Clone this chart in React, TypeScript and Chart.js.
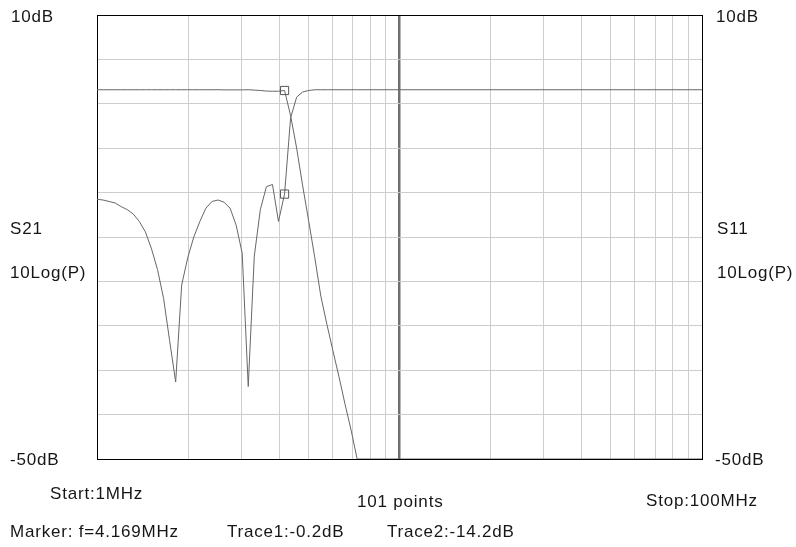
import React, { useEffect, useRef } from 'react';
import { Chart, registerables } from 'chart.js';

Chart.register(...registerables);

// Sweep frequencies (MHz) (101-point sweep, points 0..43 then stop)
const FREQ_MHZ = [
  1.0, 1.047, 1.096, 1.148, 1.202, 1.259, 1.318, 1.38, 1.445, 1.514,
  1.585, 1.66, 1.738, 1.82, 1.905, 1.995, 2.089, 2.188, 2.291, 2.399,
  2.512, 2.63, 2.754, 2.884, 3.02, 3.162, 3.311, 3.467, 3.631, 3.802,
  3.981, 4.169, 4.365, 4.571, 4.786, 5.012, 5.248, 5.495, 5.754, 6.026,
  6.31, 6.607, 6.918, 7.244, 100,
];

// Trace1: S21 (dB)
const S21_DB = [
  -0.1, -0.1, -0.1, -0.1, -0.1, -0.1, -0.1, -0.1, -0.1, -0.1,
  -0.1, -0.1, -0.1, -0.1, -0.1, -0.1, -0.1, -0.1, -0.1, -0.1,
  -0.1, -0.12, -0.12, -0.12, -0.12, -0.1, -0.15, -0.2, -0.28, -0.3,
  -0.3, -0.2, -3.6, -8.0, -13.1, -17.9, -22.8, -28.0, -31.8, -35.4,
  -38.9, -42.6, -46.1, -50, -50,
];

// Trace2: S11 (dB)
const S11_DB = [
  -14.9, -15.0, -15.2, -15.4, -15.9, -16.3, -16.9, -17.9, -19.3, -21.6,
  -24.4, -28.3, -34.0, -39.6, -26.5, -22.8, -20.0, -17.9, -16.1, -15.2,
  -15.0, -15.3, -16.1, -18.4, -22.2, -40.2, -22.6, -16.3, -13.2, -12.9,
  -17.9, -14.2, -3.9, -1.1, -0.4, -0.2, -0.1, -0.1, -0.1, -0.1,
  -0.1, -0.1, -0.1, -0.1, -0.1,
];

const X_TICKS = [1, 2, 3, 4, 5, 6, 7, 8, 9, 10, 20, 30, 40, 50, 60, 70, 80, 90, 100];
const Y_TICKS = [-50, -44, -38, -32, -26, -20, -14, -8, -2, 4, 10];
const MARKER_INDEX = 31;
const POINTS_COUNT = 101;

const TRACE_COLOR = '#676767';
const GRID_COLOR = '#cdcdcd';

const framePlugin = {
  id: 'frame',
  beforeDraw(chart: any) {
    const ctx = chart.ctx;
    ctx.save();
    ctx.fillStyle = '#ffffff';
    ctx.fillRect(0, 0, chart.width, chart.height);
    ctx.restore();
  },
  beforeDatasetsDraw(chart: any) {
    const { ctx, chartArea } = chart;
    ctx.save();
    ctx.strokeStyle = '#000000';
    ctx.lineWidth = 1;
    const l = Math.round(chartArea.left) + 0.5;
    const t = Math.round(chartArea.top) + 0.5;
    const r = Math.round(chartArea.right) + 0.5;
    const b = Math.round(chartArea.bottom) + 0.5;
    ctx.strokeRect(l, t, r - l, b - t);
    ctx.restore();
  },
  afterDraw(chart: any) {
    const ctx = chart.ctx;
    ctx.save();
    ctx.fillStyle = '#161616';
    ctx.font = '17px "Liberation Sans", Arial, sans-serif';
    try { (ctx as any).letterSpacing = '0.8px'; } catch (e) { /* ignore */ }
    ctx.textBaseline = 'alphabetic';
    ctx.textAlign = 'left';
    const f = FREQ_MHZ[MARKER_INDEX];
    const labels: [string, number, number][] = [
      ['10dB', 11, 22],
      ['S21', 10, 234],
      ['10Log(P)', 10, 278],
      ['-50dB', 10, 465],
      ['10dB', 716, 22],
      ['S11', 717, 234],
      ['10Log(P)', 717, 278],
      ['-50dB', 715, 465],
      ['Start:' + FREQ_MHZ[0] + 'MHz', 50, 499],
      [POINTS_COUNT + ' points', 357, 507],
      ['Stop:' + FREQ_MHZ[FREQ_MHZ.length - 1] + 'MHz', 646, 506],
      ['Marker: f=' + f.toFixed(3) + 'MHz', 10, 537],
      ['Trace1:' + S21_DB[MARKER_INDEX].toFixed(1) + 'dB', 227, 537],
      ['Trace2:' + S11_DB[MARKER_INDEX].toFixed(1) + 'dB', 387, 537],
    ];
    for (const [text, x, y] of labels) ctx.fillText(text, x, y);
    ctx.restore();
  },
};

export default function App() {
  const ref = useRef<HTMLCanvasElement>(null);
  useEffect(() => {
    document.body.style.margin = '0';
    const canvas = ref.current;
    if (!canvas) return;
    const markerRadius = (c: any) => (c.dataIndex === MARKER_INDEX ? 5.8 : 0);
    const chart = new Chart(canvas, {
      type: 'line',
      data: {
        datasets: [
          {
            label: 'S21',
            data: FREQ_MHZ.map((x, i) => ({ x, y: S21_DB[i] })),
            borderColor: TRACE_COLOR,
            borderWidth: 1,
            pointStyle: 'rect',
            pointRadius: markerRadius,
            pointHoverRadius: markerRadius,
            pointBorderColor: '#555555',
            pointBackgroundColor: 'rgba(0,0,0,0)',
            pointBorderWidth: 1,
            tension: 0,
            fill: false,
          },
          {
            label: 'S11',
            data: FREQ_MHZ.map((x, i) => ({ x, y: S11_DB[i] })),
            borderColor: TRACE_COLOR,
            borderWidth: 1,
            pointStyle: 'rect',
            pointRadius: markerRadius,
            pointHoverRadius: markerRadius,
            pointBorderColor: '#555555',
            pointBackgroundColor: 'rgba(0,0,0,0)',
            pointBorderWidth: 1,
            tension: 0,
            fill: false,
          },
        ],
      },
      options: {
        animation: false,
        responsive: false,
        devicePixelRatio: 1,
        events: [],
        layout: { padding: { left: 97, right: 94, top: 15, bottom: 88 } },
        plugins: { legend: { display: false }, tooltip: { enabled: false } },
        scales: {
          x: {
            type: 'logarithmic',
            min: 1,
            max: 100,
            afterBuildTicks: (s: any) => {
              s.ticks = X_TICKS.map((v) => ({ value: v }));
            },
            ticks: { display: false },
            grid: {
              drawTicks: false,
              color: (c: any) => (c.tick && c.tick.value === 10 ? '#707070' : GRID_COLOR),
              lineWidth: (c: any) => (c.tick && c.tick.value === 10 ? 2.5 : 1),
            },
            border: { display: false },
          },
          y: {
            type: 'linear',
            min: -50,
            max: 10,
            afterBuildTicks: (s: any) => {
              s.ticks = Y_TICKS.map((v) => ({ value: v }));
            },
            ticks: { display: false },
            grid: { drawTicks: false, color: GRID_COLOR, lineWidth: 1 },
            border: { display: false },
          },
        },
      },
      plugins: [framePlugin],
    } as any);
    return () => chart.destroy();
  }, []);
  return (
    <div style={{ position: 'absolute', left: 0, top: 0, width: 796, height: 547, background: '#fff' }}>
      <canvas ref={ref} width={796} height={547} style={{ display: 'block' }} />
    </div>
  );
}
